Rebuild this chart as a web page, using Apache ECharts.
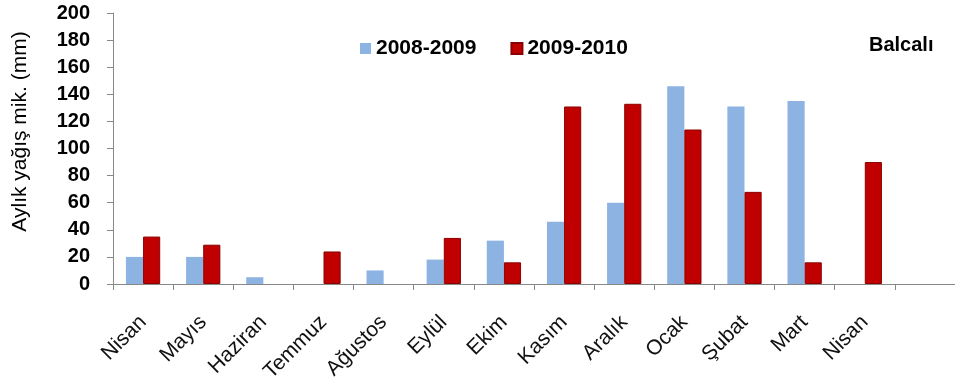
<!DOCTYPE html>
<html>
<head>
    <meta charset="utf-8">
    <script src="https://cdn.jsdelivr.net/npm/echarts@6/dist/echarts.min.js"></script>
    <style>
        html, body { margin: 0; padding: 0; background: #fff; }
        #container { width: 955px; height: 385px; }
    </style>
</head>
<body>
    <div id="container"></div>
<script type="text/javascript">
    // aylar (son kategori boş)
    var months = ['Nisan', 'Mayıs', 'Haziran', 'Temmuz', 'Ağustos', 'Eylül', 'Ekim', 'Kasım', 'Aralık', 'Ocak', 'Şubat', 'Mart', 'Nisan', ''];
    var rain0809 = [20, 20, 5, null, 10, 18, 32, 46, 60, 146, 131, 135, null, null];
    var rain0910 = [35, 29, null, 24, null, 34, 16, 131, 133, 114, 68, 16, 90, null];
    var seriesNames = ['2008-2009', '2009-2010'];
    var yTicks = [0, 20, 40, 60, 80, 100, 120, 140, 160, 180, 200];

    var font = 'Liberation Sans, Arial, sans-serif';
    var myChart = echarts.init(document.getElementById('container'));
    var option = {
        backgroundColor: '#fff',
        animation: false,
        grid: { left: 113, right: 0, top: 13, bottom: 101, outerBoundsMode: 'none' },
        legend: {
            data: seriesNames,
            left: 355,
            top: 33,
            itemWidth: 11,
            itemHeight: 11,
            itemGap: 34,
            icon: 'rect',
            textStyle: { fontFamily: font, fontWeight: 'bold', fontSize: 21, color: '#000' }
        },
        graphic: [{
            type: 'text',
            left: 869,
            top: 35,
            style: { text: 'Balcalı', font: 'bold 20px ' + font, fill: '#000' }
        }],
        xAxis: {
            type: 'category',
            data: months,
            axisLine: { lineStyle: { color: '#888' } },
            axisTick: { show: true, length: 6, lineStyle: { color: '#888' } },
            axisLabel: {
                rotate: 45,
                interval: 0,
                fontFamily: font,
                fontSize: 21,
                color: '#111',
                margin: 35
            }
        },
        yAxis: {
            type: 'value',
            min: yTicks[0],
            max: yTicks[yTicks.length - 1],
            interval: 20,
            name: 'Aylık yağış mik. (mm)',
            nameLocation: 'middle',
            nameGap: 82,
            nameTextStyle: { fontFamily: font, fontSize: 21, color: '#000', padding: [0, 0, 0, 34] },
            axisLine: { show: true, lineStyle: { color: '#888' } },
            axisTick: { show: true, length: 6, lineStyle: { color: '#888' } },
            splitLine: { show: false },
            axisLabel: {
                fontFamily: font,
                fontWeight: 'bold',
                fontSize: 20,
                color: '#000',
                margin: 23
            }
        },
        series: [{
            name: seriesNames[0],
            type: 'bar',
            data: rain0809,
            barGap: '0%',
            barCategoryGap: '43%',
            itemStyle: { color: '#8DB3E2' }
        }, {
            name: seriesNames[1],
            type: 'bar',
            data: rain0910,
            itemStyle: { color: '#C00000', borderColor: '#8B0000', borderWidth: 1 }
        }]
    };
    myChart.setOption(option, true);
</script>
</body>
</html>
